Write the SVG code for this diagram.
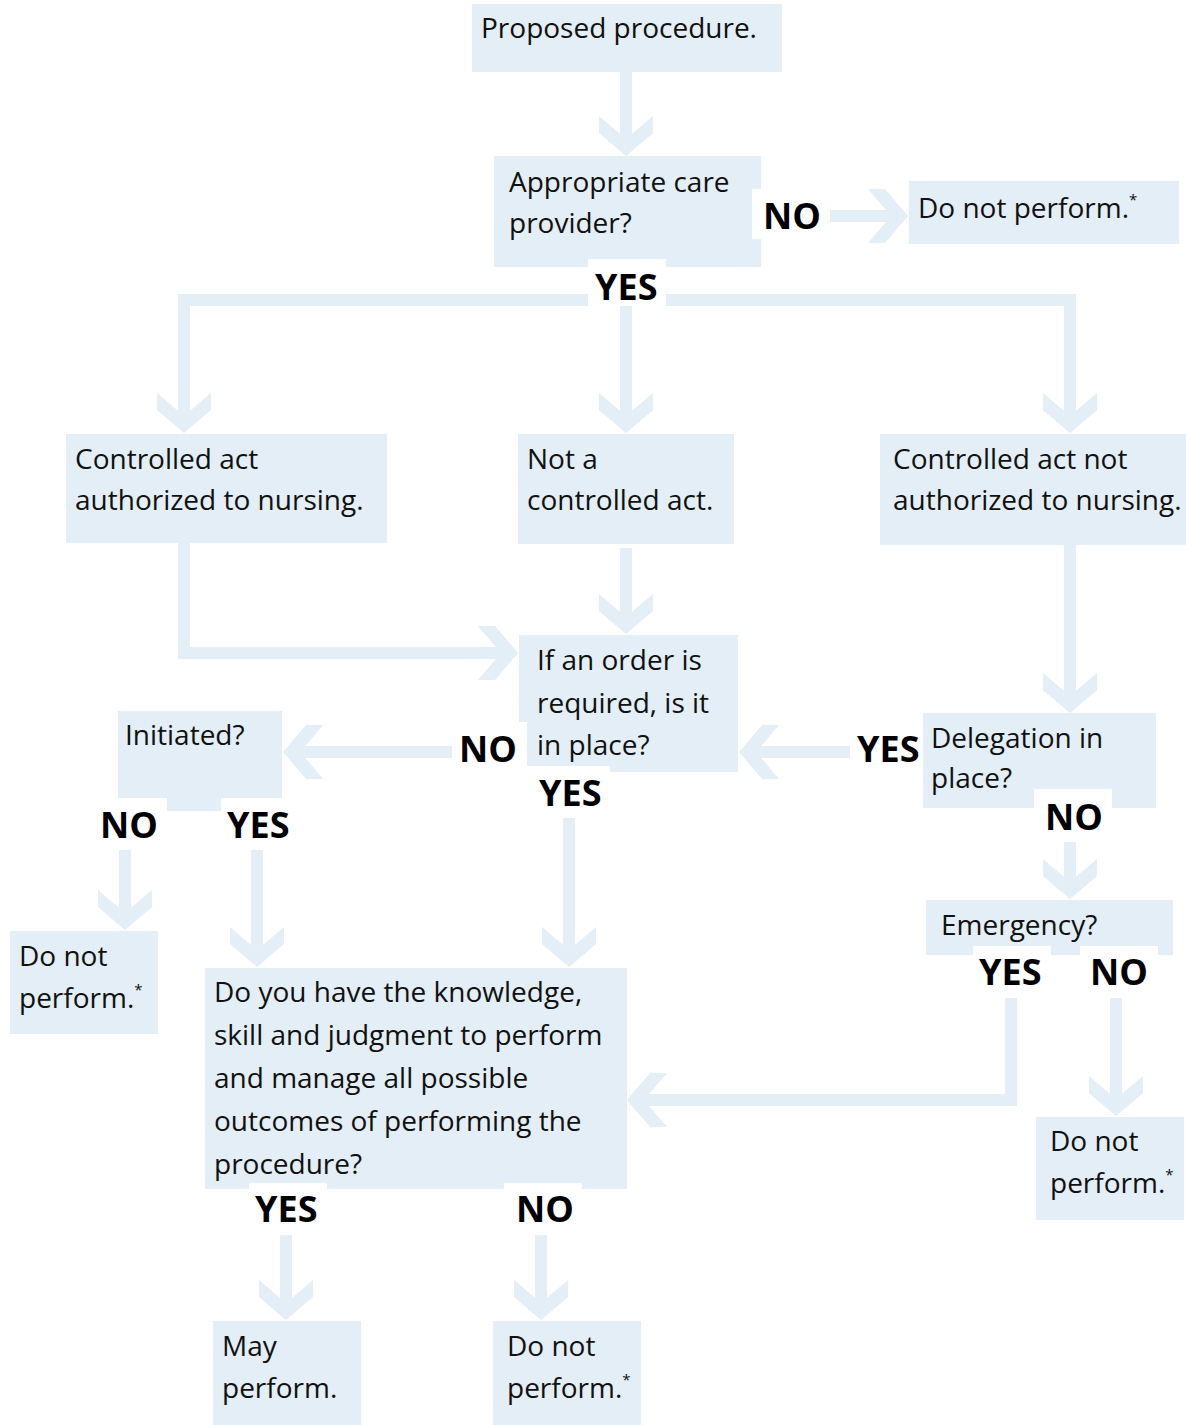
<svg xmlns="http://www.w3.org/2000/svg" xmlns:xlink="http://www.w3.org/1999/xlink" width="1186" height="1425" viewBox="0 0 1186 1425">
<style>
.box{fill:#e3eef6}
.t{font-family:"Open Sans","Noto Sans","Liberation Sans",sans-serif;font-size:28px;fill:#111}
.sup{font-size:15px}
.lbl{font-family:"Open Sans","Noto Sans","Liberation Sans",sans-serif;font-size:36px;font-weight:bold;fill:#000}
.patch{fill:#fff}
.ln{fill:none;stroke:#e3eef6;stroke-width:12;stroke-linejoin:miter}
.ch{fill:#e3eef6}
</style>
<defs>
<path id="chev" class="ch" d="M0,0 L-23,-27 L-40,-27 L-17,0 L-40,27 L-23,27 Z"/>
</defs>
<rect width="1186" height="1425" fill="#fff"/>

<g id="n1"><rect class="box" x="472" y="4" width="310" height="68"/><text class="t" x="481" y="38">Proposed procedure.</text></g>
<g id="n2"><rect class="box" x="494" y="156" width="267" height="111"/><text class="t" x="509" y="192">Appropriate care</text><text class="t" x="509" y="233">provider?</text></g>
<g id="n3"><rect class="box" x="909" y="181" width="270" height="63"/><text class="t" x="918" y="218">Do not perform.<tspan class="sup" dy="-13">*</tspan></text></g>
<g id="n4"><rect class="box" x="66" y="434" width="321" height="109"/><text class="t" x="75" y="469">Controlled act</text><text class="t" x="75" y="510">authorized to nursing.</text></g>
<g id="n5"><rect class="box" x="518" y="434" width="216" height="110"/><text class="t" x="527" y="469">Not a</text><text class="t" x="527" y="510">controlled act.</text></g>
<g id="n6"><rect class="box" x="880" y="434" width="306" height="111"/><text class="t" x="893" y="469">Controlled act not</text><text class="t" x="893" y="510">authorized to nursing.</text></g>
<g id="n7"><rect class="box" x="519" y="635" width="219" height="137"/><text class="t" x="537" y="670">If an order is</text><text class="t" x="537" y="713">required, is it</text><text class="t" x="537" y="755">in place?</text></g>
<g id="n8"><rect class="box" x="118" y="711" width="164" height="100"/><text class="t" x="125" y="745">Initiated?</text></g>
<g id="n9"><rect class="box" x="923" y="713" width="233" height="95"/><text class="t" x="931" y="748">Delegation in</text><text class="t" x="931" y="788">place?</text></g>
<g id="n10"><rect class="box" x="926" y="900" width="247" height="55"/><text class="t" x="941" y="935">Emergency?</text></g>
<g id="n11"><rect class="box" x="10" y="931" width="148" height="103"/><text class="t" x="19" y="966">Do not</text><text class="t" x="19" y="1008">perform.<tspan class="sup" dy="-13">*</tspan></text></g>
<g id="n12"><rect class="box" x="205" y="968" width="422" height="221"/><text class="t" x="214" y="1002">Do you have the knowledge,</text><text class="t" x="214" y="1045">skill and judgment to perform</text><text class="t" x="214" y="1088">and manage all possible</text><text class="t" x="214" y="1131">outcomes of performing the</text><text class="t" x="214" y="1174">procedure?</text></g>
<g id="n13"><rect class="box" x="1036" y="1117" width="148" height="103"/><text class="t" x="1050" y="1151">Do not</text><text class="t" x="1050" y="1193">perform.<tspan class="sup" dy="-13">*</tspan></text></g>
<g id="n14"><rect class="box" x="213" y="1321" width="148" height="104"/><text class="t" x="222" y="1356">May</text><text class="t" x="222" y="1398">perform.</text></g>
<g id="n15"><rect class="box" x="493" y="1321" width="148" height="104"/><text class="t" x="507" y="1356">Do not</text><text class="t" x="507" y="1398">perform.<tspan class="sup" dy="-13">*</tspan></text></g>

<g id="connectors">
<path class="ln" d="M626,72 V146"/><use xlink:href="#chev" href="#chev" transform="translate(626,156) rotate(90)"/>
<path class="ln" d="M830,216 H898"/><use xlink:href="#chev" href="#chev" transform="translate(908,216)"/>
<path class="ln" d="M184,423 V300 H590"/><use xlink:href="#chev" href="#chev" transform="translate(184,433) rotate(90)"/>
<path class="ln" d="M664,300 H1070 V423"/><use xlink:href="#chev" href="#chev" transform="translate(1070,433) rotate(90)"/>
<path class="ln" d="M626,306 V423"/><use xlink:href="#chev" href="#chev" transform="translate(626,433) rotate(90)"/>
<path class="ln" d="M184,543 V653 H508"/><use xlink:href="#chev" href="#chev" transform="translate(518,653)"/>
<path class="ln" d="M626,548 V624"/><use xlink:href="#chev" href="#chev" transform="translate(626,634) rotate(90)"/>
<path class="ln" d="M1070,545 V703"/><use xlink:href="#chev" href="#chev" transform="translate(1070,713) rotate(90)"/>
<path class="ln" d="M452,752 H293"/><use xlink:href="#chev" href="#chev" transform="translate(283,752) rotate(180)"/>
<path class="ln" d="M850,752 H749"/><use xlink:href="#chev" href="#chev" transform="translate(739,752) rotate(180)"/>
<path class="ln" d="M569,818 V957"/><use xlink:href="#chev" href="#chev" transform="translate(569,967) rotate(90)"/>
<path class="ln" d="M1070,842 V889"/><use xlink:href="#chev" href="#chev" transform="translate(1070,899) rotate(90)"/>
<path class="ln" d="M125,849 V920"/><use xlink:href="#chev" href="#chev" transform="translate(125,930) rotate(90)"/>
<path class="ln" d="M257,849 V957"/><use xlink:href="#chev" href="#chev" transform="translate(257,967) rotate(90)"/>
<path class="ln" d="M1011,998 V1100 H637"/><use xlink:href="#chev" href="#chev" transform="translate(627,1100) rotate(180)"/>
<path class="ln" d="M1116,998 V1106"/><use xlink:href="#chev" href="#chev" transform="translate(1116,1116) rotate(90)"/>
<path class="ln" d="M286,1235 V1310"/><use xlink:href="#chev" href="#chev" transform="translate(286,1320) rotate(90)"/>
<path class="ln" d="M541,1235 V1310"/><use xlink:href="#chev" href="#chev" transform="translate(541,1320) rotate(90)"/>
</g>

<g id="labels">
<rect class="patch" x="752" y="189" width="78" height="50"/><text class="lbl" x="763" y="229">NO</text>
<rect class="patch" x="588" y="259" width="78" height="47"/><text class="lbl" x="595" y="300">YES</text>
<rect class="patch" x="452" y="722" width="75" height="52"/><text class="lbl" x="459" y="762">NO</text>
<rect class="patch" x="527" y="766" width="83" height="49"/><text class="lbl" x="539" y="806">YES</text>
<rect class="patch" x="850" y="722" width="73" height="52"/><text class="lbl" x="857" y="762">YES</text>
<rect class="patch" x="1034" y="789" width="78" height="50"/><text class="lbl" x="1045" y="830">NO</text>
<rect class="patch" x="90" y="798" width="77" height="52"/><text class="lbl" x="100" y="838">NO</text>
<rect class="patch" x="221" y="798" width="79" height="52"/><text class="lbl" x="227" y="838">YES</text>
<rect class="patch" x="973" y="946" width="78" height="50"/><text class="lbl" x="979" y="985">YES</text>
<rect class="patch" x="1080" y="946" width="78" height="50"/><text class="lbl" x="1090" y="985">NO</text>
<rect class="patch" x="249" y="1183" width="78" height="50"/><text class="lbl" x="255" y="1222">YES</text>
<rect class="patch" x="504" y="1183" width="78" height="50"/><text class="lbl" x="516" y="1222">NO</text>
</g>
</svg>
